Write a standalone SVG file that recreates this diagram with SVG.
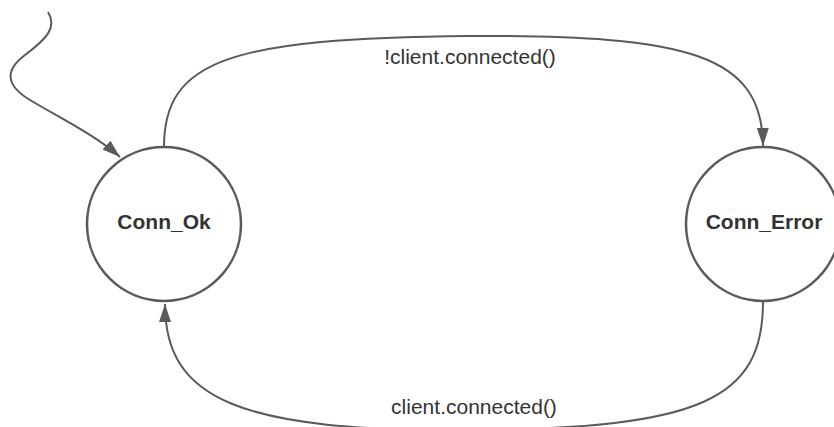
<svg xmlns="http://www.w3.org/2000/svg" width="834" height="427" viewBox="0 0 834 427">
  <defs>
    <marker id="arrow" markerUnits="userSpaceOnUse" markerWidth="20" markerHeight="14" refX="18" refY="6" orient="auto">
      <path d="M0,0 L18,6 L0,12 Z" fill="#5a5a5a"/>
    </marker>
  </defs>
  <style>
    .state { fill: #ffffff; stroke: #5a5a5a; stroke-width: 2.5; }
    .state-label { font-family: "Liberation Sans", Arial, sans-serif; font-weight: bold; font-size: 21px; fill: #333333; text-anchor: middle; }
    .edge { fill: none; stroke: #5a5a5a; stroke-width: 2; }
    .edge-label { font-family: "Liberation Sans", Arial, sans-serif; font-size: 21px; fill: #333333; text-anchor: middle; }
  </style>
  <rect width="834" height="427" fill="#ffffff"/>
  <g id="connectors">
    <path class="edge" marker-end="url(#arrow)" d="M48,12 C58,28 45,40 25,55 C5,70 5,85 30,100 C60,118 95,135 120,157"/>
    <path class="edge" marker-end="url(#arrow)" d="M164,147 C164,60 230,38 470,36 C690,35 762,55 763,146"/>
    <path class="edge" marker-end="url(#arrow)" d="M763,302 C763,400 700,428 474,430 C240,432 165,400 165,304"/>
    <text class="edge-label" x="470" y="64">!client.connected()</text>
    <text class="edge-label" x="474" y="414">client.connected()</text>
  </g>
  <g id="conn_ok">
    <circle class="state" cx="164" cy="224" r="77"/>
    <text class="state-label" x="164" y="229">Conn_Ok</text>
  </g>
  <g id="conn_error">
    <circle class="state" cx="763" cy="224" r="77"/>
    <text class="state-label" x="764" y="229">Conn_Error</text>
  </g>
</svg>
